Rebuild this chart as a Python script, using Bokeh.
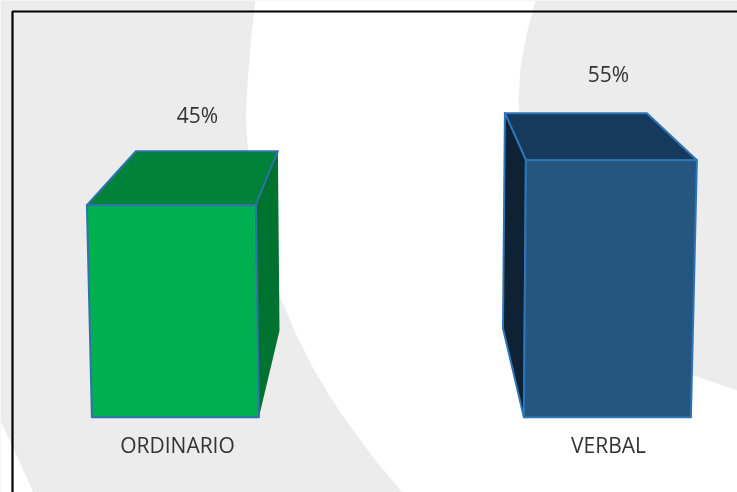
from bokeh.plotting import figure
from bokeh.models import Range1d
from bokeh.core.properties import value
from bokeh.embed import file_html
from bokeh.resources import INLINE

categories = ["ORDINARIO", "VERBAL"]
percent = [45.2, 54.8]
front_colors = ["#00B050", "#24567F"]
top_colors = ["#00823A", "#163A5C"]
side_colors = ["#00722F", "#0E2135"]
edge_colors = ["#2F72AE", "#2E75B6"]

W, H = 737, 492
BASE = 416.7
PX_PER_UNIT = 4.69


def vy(py):
    return (BASE - py) / PX_PER_UNIT


# layout in screen pixels, for the decoration and the perspective of each box
centers = [174.9, 606.9]
front_half_base = [83.5, 83.5]
front_top_left = [-88.5, -81.5]
front_top_right = [80.5, 89.5]
back_left = [-39.5, -102.5]
back_right = [102.5, 39.5]
back_rise = [54, 47]
side_bottom = [(279, 330), (502.5, 328)]

p = figure(width=W, height=H, output_backend="svg", toolbar_location=None,
           x_range=Range1d(0, W), y_range=Range1d(vy(H), vy(0)),
           min_border=0, outline_line_color=None,
           background_fill_color="#ECECEC", border_fill_color="#ECECEC")
p.styles = {"position": "fixed", "left": "0px", "top": "0px"}
p.axis.visible = False
p.grid.visible = False

# white sweeps of the slide background
mid_x = [255, 251, 248, 246, 245.5, 246, 249, 254, 262, 272, 280, 296, 313, 330, 347, 375, 402,
         737, 737, 693, 650, 610, 575, 547, 530, 520, 518, 520, 527, 535]
mid_y = [0, 35, 70, 100, 115, 130, 170, 205, 240, 270, 297, 335, 368, 397, 422, 460, 492,
         492, 390, 375, 352, 325, 290, 245, 190, 135, 100, 67, 30, 0]
p.patch(mid_x, [vy(y) for y in mid_y], fill_color="white", line_color=None)
corner_x = [0, 12, 33, 0]
corner_y = [420, 446, 492, 492]
p.patch(corner_x, [vy(y) for y in corner_y], fill_color="white", line_color=None)

# frame
p.line([12, 12, W], [vy(H), vy(11), vy(11)], line_color="black", line_width=2.2)

for i, (cat, val) in enumerate(zip(categories, percent)):
    c = centers[i]
    top = val
    lx, rx = c - front_half_base[i], c + front_half_base[i]
    tlx, trx = c + front_top_left[i], c + front_top_right[i]
    blx, brx = c + back_left[i], c + back_right[i]
    back = top + back_rise[i] / PX_PER_UNIT
    sx, sy = side_bottom[i]

    style = dict(line_color=edge_colors[i], line_width=2, line_join="round")
    p.patch([tlx, blx, brx, trx], [top, back, back, top], fill_color=top_colors[i], **style)
    if i == 0:
        p.patch([trx, brx, sx, rx], [top, back, vy(sy), 0], fill_color=side_colors[i],
                line_color=None)
        p.line([trx, brx], [top, back], line_color=edge_colors[i], line_width=1.5)
    else:
        p.patch([tlx, blx, sx, lx], [top, back, vy(sy), 0], fill_color=side_colors[i], **style)
    p.patch([tlx, trx, rx, lx], [top, top, 0, 0], fill_color=front_colors[i], **style)

label_x = [197, 608]
label_y = [114.5, 73]
name_x = [177, 608]
name_y = 444
font = value("Open Sans")
p.text(label_x, [vy(y) for y in label_y], text=[f"{round(v)}%" for v in percent],
       text_font=font, text_font_size="21px", text_color="#333333",
       text_align="center", text_baseline="middle")
p.text(name_x, [vy(name_y)] * 2, text=categories,
       text_font=font, text_font_size="21px", text_color="#333333",
       text_align="center", text_baseline="middle")

open("out.html", "w").write(file_html(p, INLINE))
